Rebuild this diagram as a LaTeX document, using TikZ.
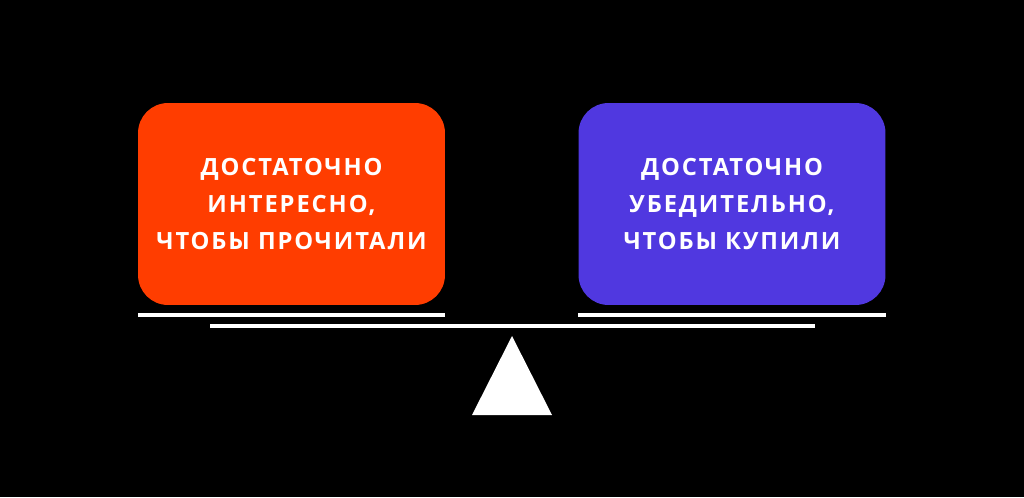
\documentclass[tikz,border=0pt]{standalone}
\usepackage{fontspec}
\setmainfont{Open Sans}
\newfontfamily\capsfont[LetterSpace=8,BoldFont={* Bold}]{Open Sans}
\usepackage{xcolor}
\definecolor{warmred}{HTML}{FF3D00}
\definecolor{coolblue}{HTML}{5038E0}

\begin{document}
\begin{tikzpicture}[x=0.02cm,y=-0.02cm]
    \tikzset{pan/.style={rounded corners=0.6cm, minimum width=6.14cm, minimum height=4.04cm,
        text=white, align=center, font=\capsfont\bfseries\fontsize{13.5}{21}\selectfont}}
    \fill[black] (0,0) rectangle (1024,497);
    \useasboundingbox (0,0) rectangle (1024,497);
    \node[pan, fill=warmred] (left) at (291.5,204) {ДОСТАТОЧНО\\ИНТЕРЕСНО,\\ЧТОБЫ ПРОЧИТАЛИ};
    \node[pan, fill=coolblue] (right) at (732,204) {ДОСТАТОЧНО\\УБЕДИТЕЛЬНО,\\ЧТОБЫ КУПИЛИ};
    % plates and beam
    \draw[white, line width=0.08cm] (138,315) -- (445,315);
    \draw[white, line width=0.08cm] (578,315) -- (886,315);
    \draw[white, line width=0.08cm] (210,326) -- (815,326);
    % pivot
    \fill[white] (512,336) -- (552,415) -- (472,415) -- cycle;
\end{tikzpicture}
\end{document}
